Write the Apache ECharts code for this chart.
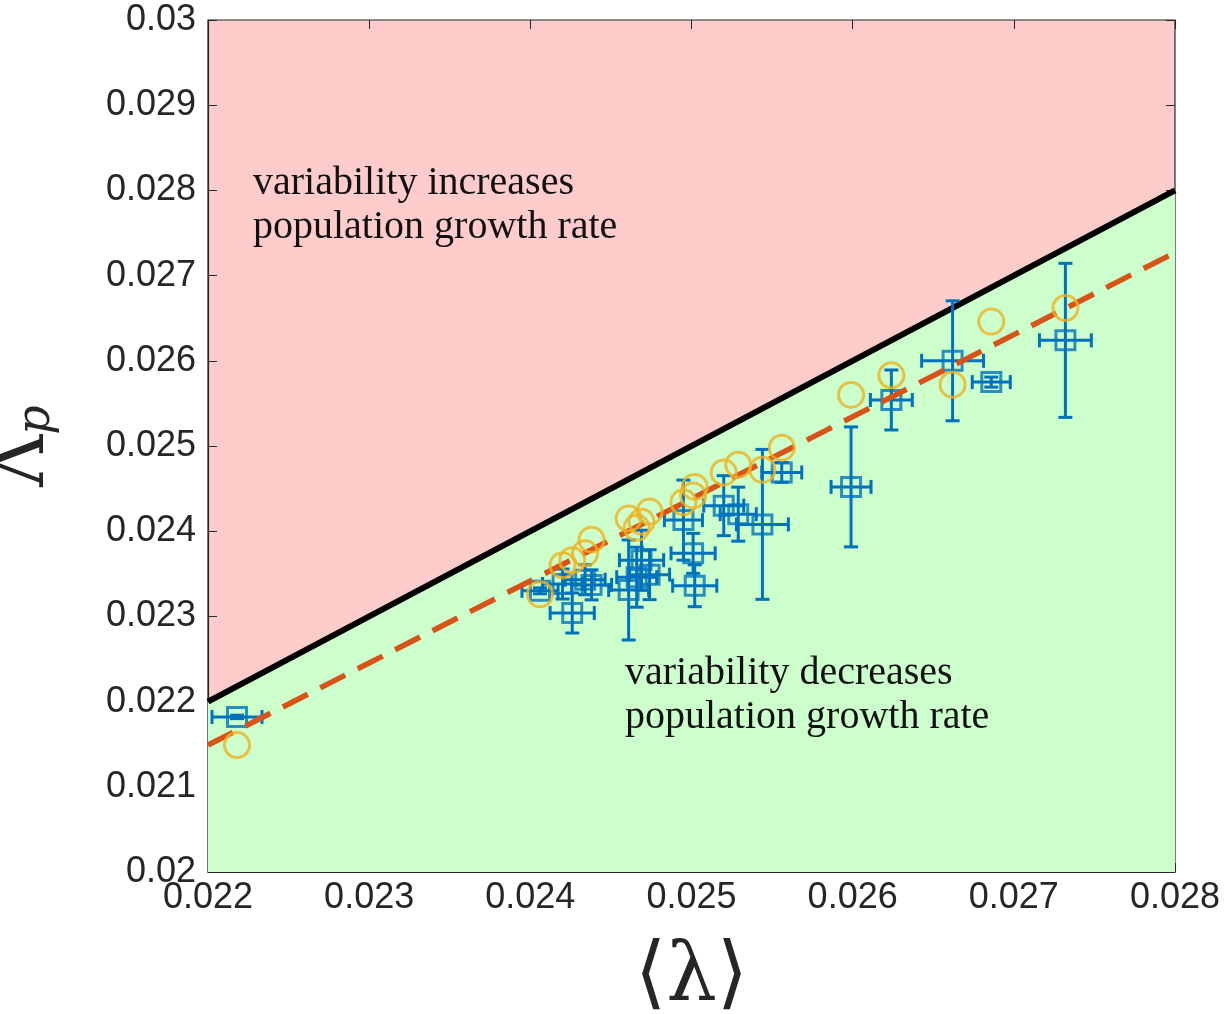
<!DOCTYPE html>
<html>
<head>
<meta charset="utf-8">
<script src="https://cdn.jsdelivr.net/npm/echarts@6/dist/echarts.min.js"></script>
<style>html,body{margin:0;padding:0;background:#fff}#c{width:1227px;height:1014px}</style>
</head>
<body>
<div id="c"></div>
<script>
// Mean growth rate <lambda> for each population (shared by both marker sets)
const lambdaMean = [0.02218,0.02406,0.02420,0.02426,0.02434,0.02438,0.02461,0.02466,0.02469,0.02474,0.02495,0.02501,0.02502,0.02520,0.02529,0.02544,0.02556,0.02599,0.02624,0.02662,0.02686,0.02732];
// Observed Lambda_p (blue squares) with error bars
const lambdaPObs = [0.02182,0.02330,0.02338,0.02304,0.02343,0.02337,0.02331,0.02346,0.02366,0.02349,0.02413,0.02374,0.02336,0.02430,0.02420,0.02408,0.02469,0.02452,0.02554,0.02600,0.02575,0.02624];
const xErr = [0.000155,0.000112,0.000124,0.000137,0.000124,0.000124,0.000124,0.000124,0.000137,0.000124,0.000118,0.000137,0.000137,0.000124,0.000112,0.000161,0.000124,0.000124,0.000130,0.000192,0.000118,0.000161];
const yErr = [0.00002,0.000035,0.000176,0.000235,0.000176,0.000176,0.000587,0.000352,0.000352,0.000293,0.00047,0.000235,0.000246,0.000352,0.000317,0.00088,0.000117,0.000704,0.000352,0.000704,0.000059,0.000904];
// Predicted Lambda_p (orange circles)
const lambdaPPred = [0.02149,0.02326,0.02360,0.02366,0.02374,0.02390,0.02415,0.02404,0.02411,0.02423,0.02434,0.02442,0.02452,0.02469,0.02478,0.02472,0.02498,0.02560,0.02583,0.02572,0.02646,0.02662];
// Reference lines
const identityLine = [[0.022,0.022],[0.028,0.028]];
const fitLine = [[0.022,0.02149],[0.028,0.02727]];
// Axis settings
const xMin = 0.022, xMax = 0.028, xStep = 0.001;
const yMin = 0.02, yMax = 0.03, yStep = 0.001;

const blue = '#0072BD', orange = '#EDB120', red = '#D95319';
const errData = lambdaMean.map((x,i)=>[x, lambdaPObs[i], xErr[i], yErr[i]]);
const sqData = lambdaMean.map((x,i)=>[x, lambdaPObs[i]]);
const circData = lambdaMean.map((x,i)=>[x, lambdaPPred[i]]);

const labelFont = {fontFamily:'Liberation Sans, Arial, sans-serif', fontSize:36, color:'#262626'};
const fmt = v => {
  let s = v.toFixed(3); s = s.replace(/0+$/,''); return s;
};

const chart = echarts.init(document.getElementById('c'), null, {renderer:'canvas'});
chart.setOption({
  animation:false,
  backgroundColor:'#fff',
  grid:{left:208, top:20, right:52, bottom:142, containLabel:false, outerBoundsMode:'none',
        show:true, backgroundColor:'#FFCCCC', borderColor:'#262626', borderWidth:1.2},
  xAxis:[{
    type:'value', min:xMin, max:xMax, interval:xStep,
    axisLine:{show:true, onZero:false, lineStyle:{color:'#262626', width:1.2}},
    axisTick:{show:true, inside:true, length:9, lineStyle:{color:'#262626'}},
    splitLine:{show:false},
    axisLabel:Object.assign({margin:8, formatter:fmt}, labelFont),
    name:'⟨λ⟩', nameLocation:'middle', nameGap:66,
    nameTextStyle:{fontFamily:'DejaVu Serif, serif', fontSize:80, color:'#262626', verticalAlign:'top'}
  },{
    type:'value', min:xMin, max:xMax, interval:xStep, position:'top',
    axisLine:{show:false}, axisTick:{show:true, inside:true, length:9, lineStyle:{color:'#262626'}},
    axisLabel:{show:false}, splitLine:{show:false}
  }],
  yAxis:[{
    type:'value', min:yMin, max:yMax, interval:yStep,
    axisLine:{show:true, onZero:false, lineStyle:{color:'#262626', width:1.2}},
    axisTick:{show:true, inside:true, length:9, lineStyle:{color:'#262626'}},
    splitLine:{show:false},
    axisLabel:Object.assign({margin:12, formatter:fmt}, labelFont),
    name:'{L|Λ}{p|p}', nameLocation:'middle', nameGap:148, nameRotate:90,
    nameTextStyle:{rich:{
      L:{fontFamily:'DejaVu Serif, serif', fontSize:72, color:'#262626'},
      p:{fontFamily:'DejaVu Serif, serif', fontStyle:'italic', fontSize:46, color:'#262626', padding:[26,0,0,0]}
    }}
  },{
    type:'value', min:yMin, max:yMax, interval:yStep, position:'right',
    axisLine:{show:false}, axisTick:{show:true, inside:true, length:9, lineStyle:{color:'#262626'}},
    axisLabel:{show:false}, splitLine:{show:false}
  }],
  series:[
    {type:'line', data:identityLine, symbol:'none', z:1,
     lineStyle:{color:'#000', width:6},
     areaStyle:{color:'#CCFFCC', opacity:1, origin:'start'}},
    {type:'custom', z:3, data:errData,
     renderItem:function(params, api){
       const x=api.value(0), y=api.value(1), ex=api.value(2), ey=api.value(3);
       const l=api.coord([x-ex,y]), r=api.coord([x+ex,y]);
       const t=api.coord([x,y+ey]), b=api.coord([x,y-ey]);
       const cap=7;
       const st={stroke:blue, lineWidth:3, fill:null};
       const seg=(x1,y1,x2,y2)=>({type:'line', shape:{x1,y1,x2,y2}, style:st});
       return {type:'group', children:[
         seg(l[0],l[1],r[0],r[1]),
         seg(l[0],l[1]-cap,l[0],l[1]+cap),
         seg(r[0],r[1]-cap,r[0],r[1]+cap),
         seg(t[0],t[1],b[0],b[1]),
         seg(t[0]-cap,t[1],t[0]+cap,t[1]),
         seg(b[0]-cap,b[1],b[0]+cap,b[1])
       ]};
     }},
    {type:'scatter', z:4, data:sqData, symbol:'rect', symbolSize:19,
     itemStyle:{color:'rgba(0,0,0,0)', borderColor:blue, borderWidth:3}},
    {type:'line', z:5, data:fitLine, symbol:'none',
     lineStyle:{color:red, width:5.5, type:[28,14]}},
    {type:'scatter', z:6, data:circData, symbol:'circle', symbolSize:25,
     itemStyle:{color:'rgba(0,0,0,0)', borderColor:orange, borderWidth:3}}
  ],
  graphic:[
    {type:'text', left:253, top:161, z:10, style:{text:'variability increases\npopulation growth rate', fill:'#111', fontFamily:'Liberation Serif, Times New Roman, serif', fontSize:40, lineHeight:44}},
    {type:'text', left:625, top:651, z:10, style:{text:'variability decreases\npopulation growth rate', fill:'#111', fontFamily:'Liberation Serif, Times New Roman, serif', fontSize:40, lineHeight:44}}
  ]
});
</script>
</body>
</html>
